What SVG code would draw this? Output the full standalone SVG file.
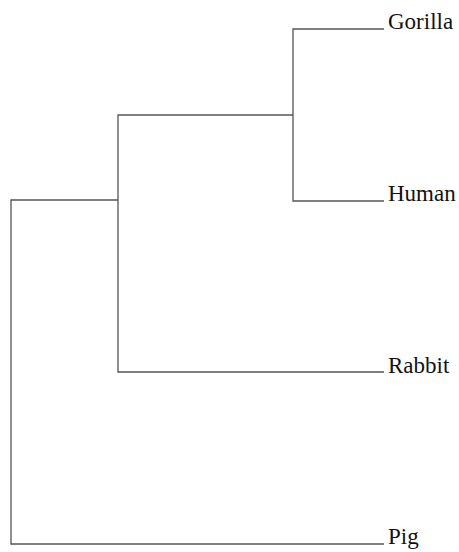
<svg xmlns="http://www.w3.org/2000/svg" width="459" height="552" viewBox="0 0 459 552">
<style>
.e{fill:none;stroke:#555;stroke-width:1.3}
.t{font-family:"Liberation Serif",serif;font-size:23px;fill:#111}
</style>
<rect width="459" height="552" fill="#fff"/>
<g id="connectors">
<polyline class="e" points="384,29 293,29 293,201 384,201"/>
<polyline class="e" points="293,115 118,115 118,372 384,372"/>
<polyline class="e" points="118,200 11,200 11,544 384,544"/>
</g>
<g id="gorilla"><text class="t" x="388" y="29">Gorilla</text></g>
<g id="human"><text class="t" x="388" y="201">Human</text></g>
<g id="rabbit"><text class="t" x="388" y="373">Rabbit</text></g>
<g id="pig"><text class="t" x="388" y="544">Pig</text></g>
</svg>
